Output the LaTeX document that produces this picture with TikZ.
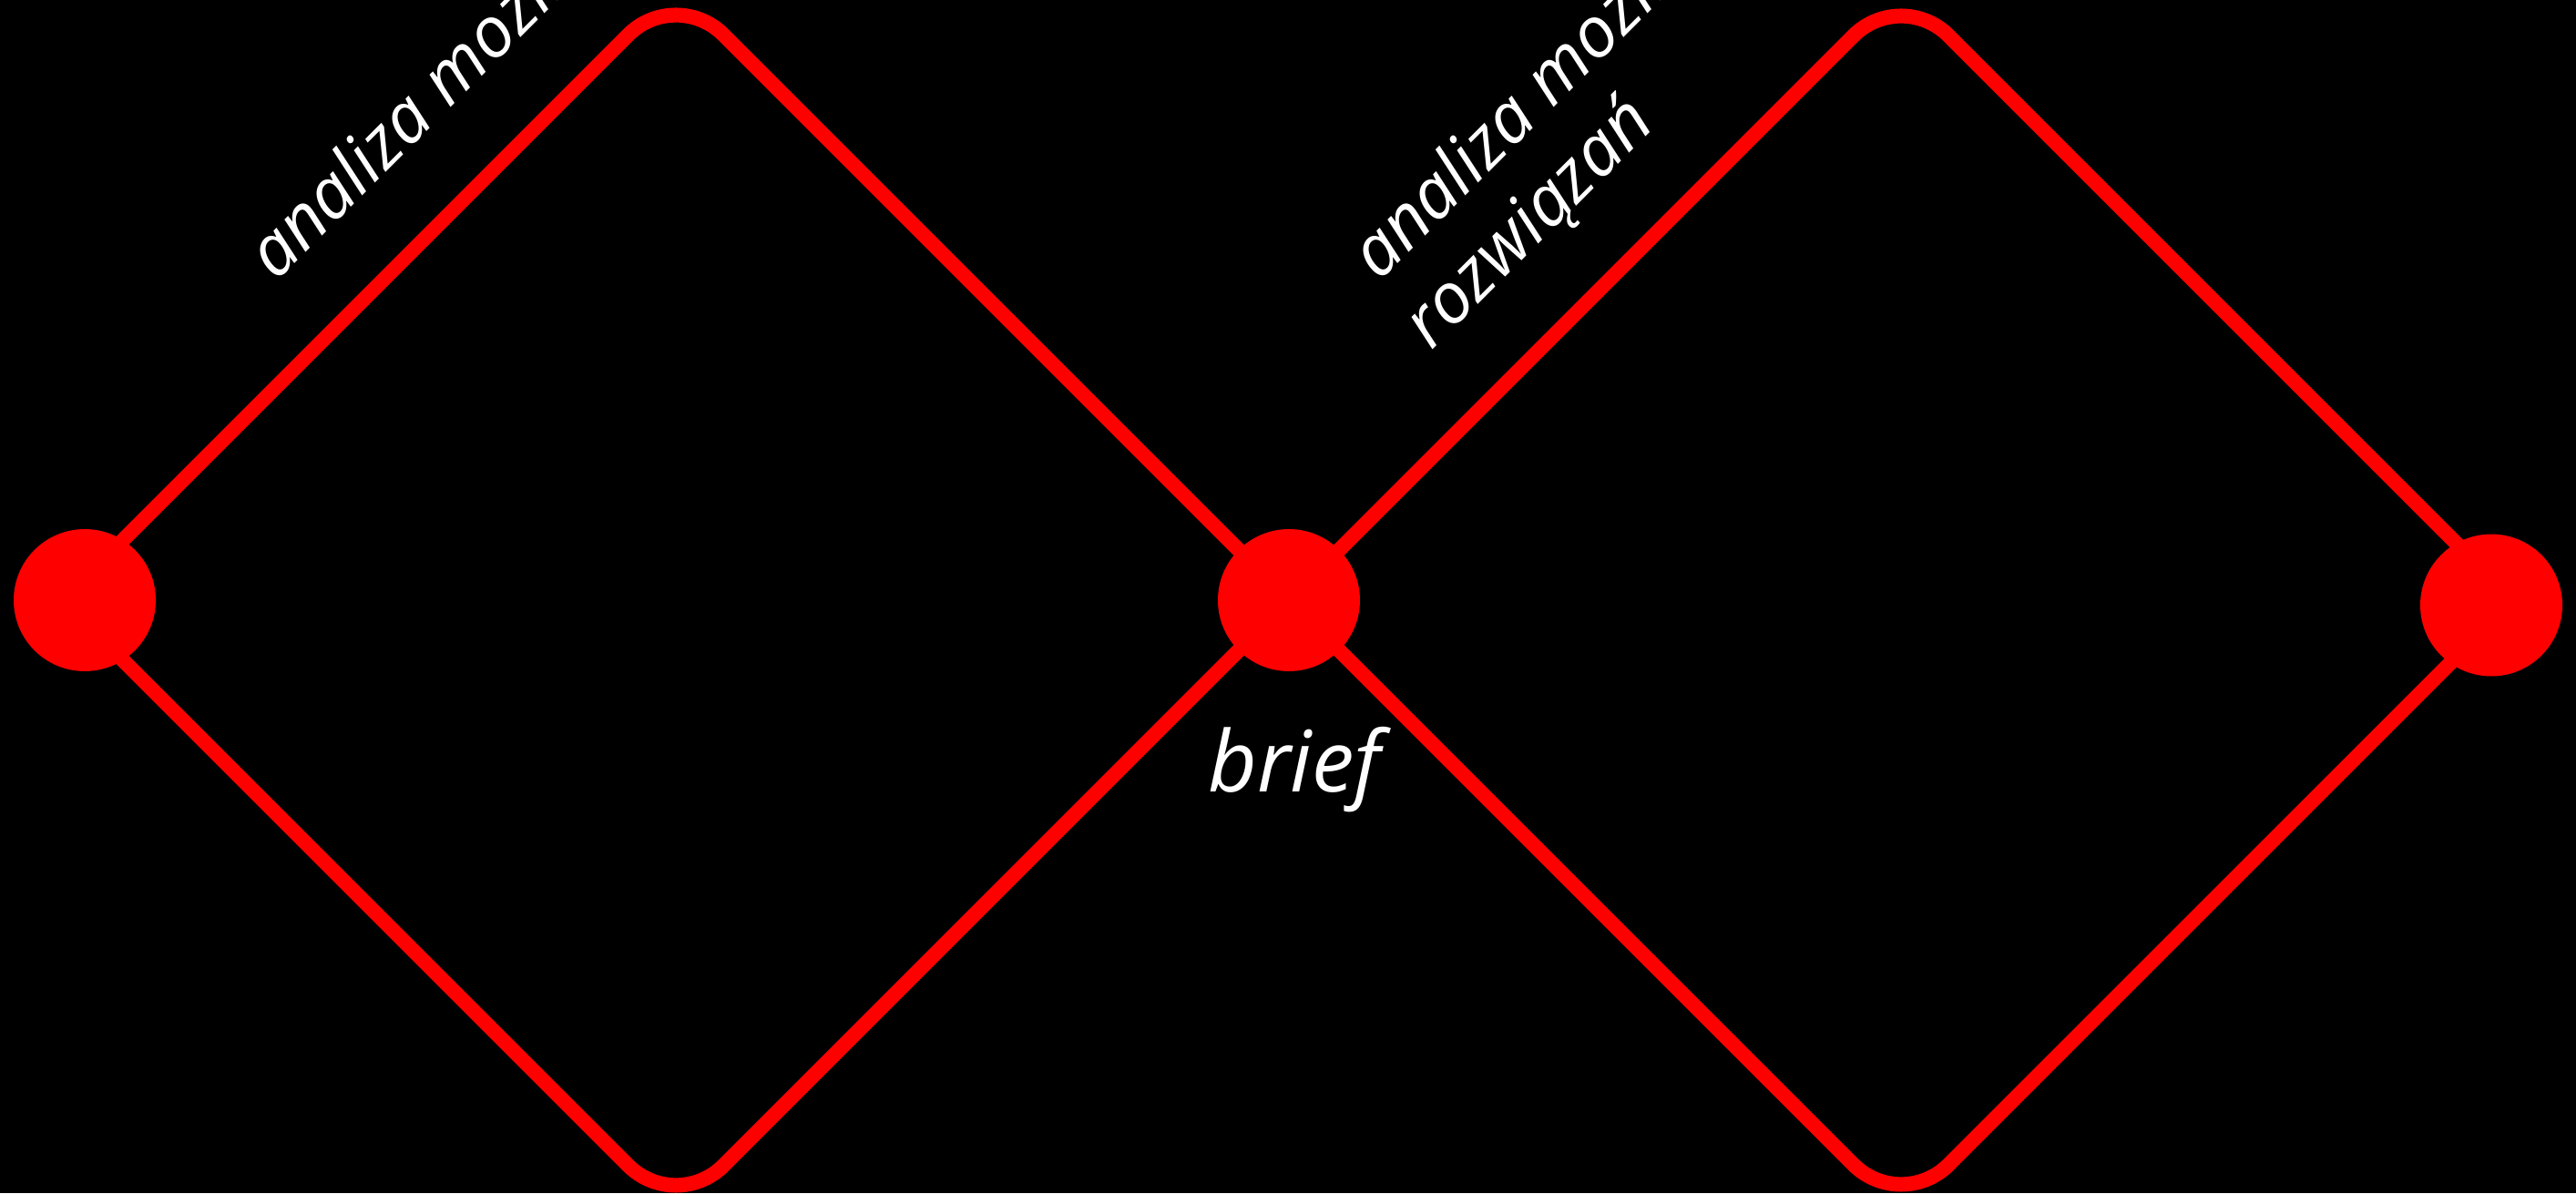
\documentclass[tikz,border=0pt]{standalone}
\usepackage{fontspec}
\setmainfont{Open Sans}
\usepackage{tikz}
\usetikzlibrary{positioning}
\tikzset{
  romb/.style={draw=red,line width=4.6pt,rounded corners=21pt},
  kropka/.style={circle,fill=red,inner sep=0pt,minimum size=1.56cm},
  opis/.style={text=white,inner sep=0pt,font=\itshape\fontsize{22}{26}\selectfont}
}
\begin{document}
\begin{tikzpicture}
\fill[black] (0,0) rectangle (28.28,13.10);
\useasboundingbox (0,0) rectangle (28.28,13.10);
\clip (0,0) rectangle (28.28,13.10);
% wierzcholki rombow
\coordinate (l1) at (0.69,6.51);
\coordinate (g1) at (7.42,13.24);
\coordinate (s) at (14.15,6.51);
\coordinate (d1) at (7.42,-0.22);
\coordinate (g2) at (20.87,13.23);
\coordinate (p2) at (27.59,6.51);
\coordinate (d2) at (20.87,-0.21);
\draw[romb] (l1) -- (g1) -- (s) -- (d1) -- cycle;
\draw[romb] (s) -- (g2) -- (p2) -- (d2) -- cycle;
% punkty
\node[kropka] (start) at (0.93,6.51) {};
\node[kropka] (brief) at (s) {};
\node[kropka] (koniec) at (27.35,6.455) {};
% opisy
\node[opis,rotate=45,anchor=base west] (analiza1) at (3.03,10.00) {analiza możliwości};
\node[opis,rotate=45,anchor=base west] (analiza2) at (15.14,10.00) {analiza możliwości};
\node[opis,rotate=45,anchor=base west] (rozw) at (15.71,9.24) {rozwiązań};
\node[opis,anchor=base,font=\itshape\fontsize{26.5}{30}\selectfont] (brieftxt) at (14.21,4.40) {brief};
\end{tikzpicture}
\end{document}
